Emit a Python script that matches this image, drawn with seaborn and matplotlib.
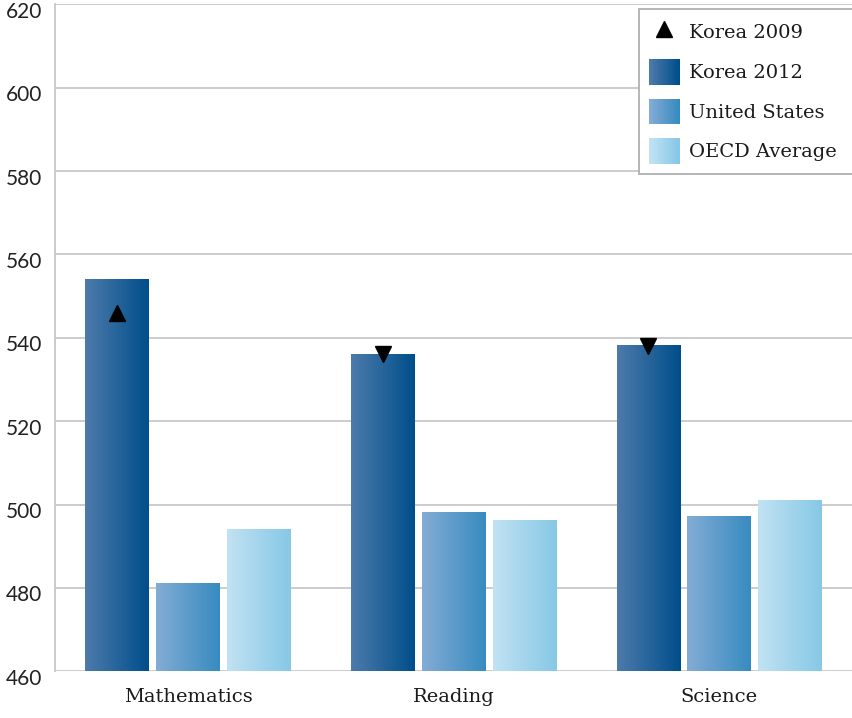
import numpy as np
import pandas as pd
import seaborn as sns
import matplotlib.pyplot as plt
import matplotlib.transforms as mtransforms
from matplotlib.colors import LinearSegmentedColormap
from matplotlib.legend_handler import HandlerBase
from matplotlib.patches import Rectangle
from matplotlib.lines import Line2D

# PISA 2012 mean scores
subjects = ['Mathematics', 'Reading', 'Science']
korea_2012 = [554, 536, 538]
united_states = [481, 498, 497]
oecd_average = [494, 496, 501]
korea_2009 = [546, 536, 538]
korea_2009_markers = ['^', 'v', 'v']
series_names = ['Korea 2012', 'United States', 'OECD Average']
y_ticks = [460, 480, 500, 520, 540, 560, 580, 600, 620]

# gradient colours (left -> right) for each series
gradients = {
    'Korea 2012': ('#4d7bab', '#004e8b'),
    'United States': ('#84acd5', '#378bc0'),
    'OECD Average': ('#c2e2f3', '#86c8e5'),
}

df = pd.DataFrame({
    'Subject': subjects * 3,
    'Score': korea_2012 + united_states + oecd_average,
    'Series': [s for s in series_names for _ in subjects],
})

sns.set_style('white')
plt.rcParams['font.family'] = ['DejaVu Serif']

fig = plt.figure(figsize=(8.52, 7.18), dpi=100)
ax = fig.add_axes([0.065, 0.065, 0.935, 0.929])

sns.barplot(data=df, x='Subject', y='Score', hue='Series', hue_order=series_names,
            order=subjects, width=0.8, gap=0.1, ax=ax, legend=False, errorbar=None)

ax.set_xlim(-0.5, 2.5)
ax.set_ylim(460, 620)

# replace flat fills with horizontal gradients
grad = np.linspace(0, 1, 256).reshape(1, -1)
for i, name in enumerate(series_names):
    cmap = LinearSegmentedColormap.from_list(name, gradients[name])
    for bar in ax.containers[i]:
        x0, y0 = bar.get_x(), bar.get_y()
        w, h = bar.get_width(), bar.get_height()
        bar.set_alpha(0)
        ax.imshow(grad, cmap=cmap, aspect='auto', extent=(x0, x0 + w, y0, y0 + h),
                  zorder=2, interpolation='bicubic')

# Korea 2009 markers drawn at the centre of the Korea 2012 bars
for bar, val, m in zip(ax.containers[0], korea_2009, korea_2009_markers):
    ax.plot(bar.get_x() + bar.get_width() / 2, val, marker=m, color='black',
            markersize=11, linestyle='none', zorder=4)

ax.set_xlim(-0.5, 2.5)
ax.set_ylim(460, 620)
ax.set_yticks(y_ticks)
ax.set_yticklabels([])
ax.yaxis.grid(True, color='#c8c8c8', linewidth=1.3)
ax.set_axisbelow(True)
ax.set_xlabel('')
ax.set_ylabel('')
for side in ['top', 'right', 'bottom']:
    ax.spines[side].set_visible(False)
ax.spines['left'].set_color('#c8c8c8')
ax.spines['left'].set_linewidth(1.3)

ax.tick_params(axis='x', length=0, pad=12, labelsize=14, labelcolor='#1a1a1a')
ax.tick_params(axis='y', length=0)

# y labels sit a little below their gridlines, as in the original
trans = mtransforms.blended_transform_factory(ax.transAxes, ax.transData)
trans = trans + mtransforms.ScaledTranslation(-13 / 100, -7.5 / 100, fig.dpi_scale_trans)
for v in y_ticks:
    ax.text(0, v, str(v), transform=trans, ha='right', va='center',
            fontsize=15, family='Lato', color='#222222')


class GradientHandler(HandlerBase):
    def __init__(self, colors):
        super().__init__()
        self.cmap = LinearSegmentedColormap.from_list('h', colors)

    def create_artists(self, legend, orig_handle, xdescent, ydescent, width, height,
                       fontsize, trans):
        n = 24
        arts = []
        for k in range(n):
            r = Rectangle((-xdescent + width * k / n, -ydescent), width / n + 0.3,
                          height, facecolor=self.cmap(k / (n - 1)),
                          edgecolor='none', transform=trans)
            arts.append(r)
        return arts


h09 = Line2D([], [], marker='^', color='black', linestyle='none', markersize=11)
hbars = [Rectangle((0, 0), 1, 1, label=n) for n in series_names]
handler_map = {hb: GradientHandler(gradients[n]) for hb, n in zip(hbars, series_names)}
leg = ax.legend([h09] + hbars, ['Korea 2009'] + series_names, handler_map=handler_map,
                loc='upper left', bbox_to_anchor=(0.733, 0.0, 0.3, 0.9925), mode='expand',
                fontsize=14, frameon=True, fancybox=False, edgecolor='#b0b0b0',
                framealpha=1, handlelength=1.55, handleheight=1.66, labelspacing=0.72,
                handletextpad=0.52, borderpad=0.5, borderaxespad=0)
leg.get_frame().set_linewidth(1.3)
for t in leg.get_texts():
    t.set_color('#1a1a1a')

plt.savefig('out.png', dpi=100)
